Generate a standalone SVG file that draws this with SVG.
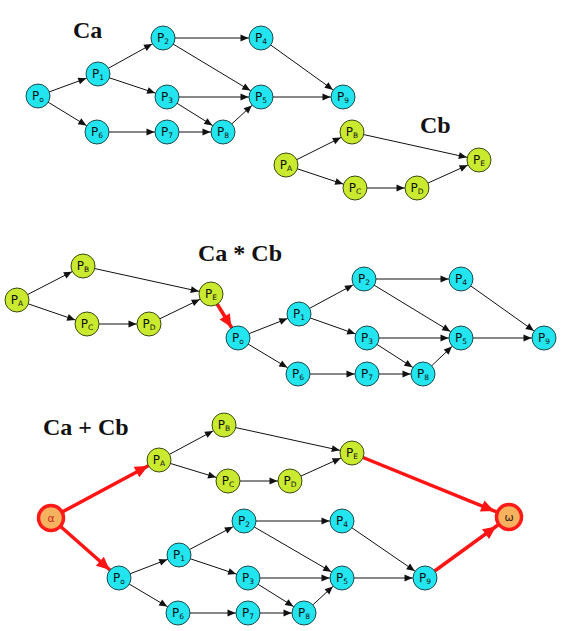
<svg xmlns="http://www.w3.org/2000/svg" width="565" height="631" viewBox="0 0 565 631">
  <style>
    .title { font-family: "Liberation Serif", "Times New Roman", serif; font-weight: bold; font-size: 24px; fill: #111; }
    .cy circle { fill: #22E5F0; stroke: #1d4a4a; stroke-width: 1; }
    .gr circle { fill: #C9EA2E; stroke: #3a4a10; stroke-width: 1; }
    .nd text { font-family: "DejaVu Sans", "Liberation Sans", sans-serif; font-size: 12px; fill: #111; text-anchor: middle; }
    .nd tspan { font-size: 7.5px; }
    .term circle { fill: #F6B25E; stroke: #FF1A1A; stroke-width: 3.5; }
    .term text { font-family: "DejaVu Sans", "Liberation Sans", sans-serif; font-size: 11px; text-anchor: middle; }
    .edges line { stroke: #111; stroke-width: 1; marker-end: url(#ah); }
    .edges line.red { stroke: #FF1414; stroke-width: 3.5; marker-end: url(#ahr); }
    .edges line.red.w { marker-end: url(#ahw); }
  </style>
  <defs>
    <!-- arrowheads: tip sits one node radius before the line end -->
    <marker id="ah" markerUnits="userSpaceOnUse" markerWidth="30" markerHeight="12" viewBox="-10 -6 30 12" refX="12.5" refY="0" orient="auto" overflow="visible">
      <path d="M-8,-3.5 L0,0 L-8,3.5 Z" fill="#111"/>
    </marker>
    <marker id="ahr" markerUnits="userSpaceOnUse" markerWidth="40" markerHeight="16" viewBox="-14 -8 40 16" refX="12.5" refY="0" orient="auto" overflow="visible">
      <path d="M-13,-6 L0,0 L-13,6 Z" fill="#FF1414"/>
    </marker>
    <marker id="ahw" markerUnits="userSpaceOnUse" markerWidth="40" markerHeight="16" viewBox="-14 -8 40 16" refX="16" refY="0" orient="auto" overflow="visible">
      <path d="M-13,-6 L0,0 L-13,6 Z" fill="#FF1414"/>
    </marker>
  </defs>

  <rect width="565" height="631" fill="#fff"/>

  <!-- titles -->
  <text class="title" x="73" y="38">Ca</text>
  <text class="title" x="420" y="133">Cb</text>
  <text class="title" x="198" y="261">Ca * Cb</text>
  <text class="title" x="43" y="435">Ca + Cb</text>

  <!-- connectors -->
  <g class="edges" id="connectors">
    <!-- Ca -->
    <line x1="38" y1="96" x2="98" y2="74"/>
    <line x1="38" y1="96" x2="97" y2="132"/>
    <line x1="98" y1="74" x2="163" y2="38"/>
    <line x1="98" y1="74" x2="167" y2="97"/>
    <line x1="163" y1="38" x2="261" y2="38"/>
    <line x1="163" y1="38" x2="261" y2="97"/>
    <line x1="167" y1="97" x2="261" y2="97"/>
    <line x1="167" y1="97" x2="223" y2="132"/>
    <line x1="261" y1="38" x2="343" y2="97"/>
    <line x1="261" y1="97" x2="343" y2="97"/>
    <line x1="97" y1="132" x2="167" y2="132"/>
    <line x1="167" y1="132" x2="223" y2="132"/>
    <line x1="223" y1="132" x2="261" y2="97"/>
    <!-- Cb -->
    <line x1="286" y1="165" x2="352" y2="132"/>
    <line x1="286" y1="165" x2="355" y2="188"/>
    <line x1="352" y1="132" x2="479" y2="160"/>
    <line x1="355" y1="188" x2="417" y2="188"/>
    <line x1="417" y1="188" x2="479" y2="160"/>

    <!-- Ca * Cb -->
    <line x1="17" y1="300" x2="83" y2="266"/>
    <line x1="17" y1="300" x2="87" y2="324"/>
    <line x1="83" y1="266" x2="211" y2="294"/>
    <line x1="87" y1="324" x2="149" y2="324"/>
    <line x1="149" y1="324" x2="211" y2="294"/>
    <line class="red" x1="211" y1="294" x2="238" y2="338"/>
    <line x1="238" y1="338" x2="299" y2="314"/>
    <line x1="238" y1="338" x2="298" y2="374"/>
    <line x1="299" y1="314" x2="364" y2="279"/>
    <line x1="299" y1="314" x2="367" y2="338"/>
    <line x1="364" y1="279" x2="461" y2="279"/>
    <line x1="364" y1="279" x2="461" y2="338"/>
    <line x1="367" y1="338" x2="461" y2="338"/>
    <line x1="367" y1="338" x2="423" y2="374"/>
    <line x1="461" y1="279" x2="544" y2="338"/>
    <line x1="461" y1="338" x2="544" y2="338"/>
    <line x1="298" y1="374" x2="367" y2="374"/>
    <line x1="367" y1="374" x2="423" y2="374"/>
    <line x1="423" y1="374" x2="461" y2="338"/>

    <!-- Ca + Cb -->
    <line class="red" x1="51" y1="518" x2="159" y2="460"/>
    <line class="red" x1="51" y1="518" x2="119" y2="578"/>
    <line class="red w" x1="352" y1="453" x2="509" y2="517"/>
    <line class="red w" x1="425" y1="578" x2="509" y2="517"/>
    <line x1="159" y1="460" x2="224" y2="425"/>
    <line x1="159" y1="460" x2="228" y2="481"/>
    <line x1="224" y1="425" x2="352" y2="453"/>
    <line x1="228" y1="481" x2="290" y2="481"/>
    <line x1="290" y1="481" x2="352" y2="453"/>
    <line x1="119" y1="578" x2="179" y2="555"/>
    <line x1="119" y1="578" x2="178" y2="613"/>
    <line x1="179" y1="555" x2="244" y2="521"/>
    <line x1="179" y1="555" x2="248" y2="578"/>
    <line x1="244" y1="521" x2="342" y2="521"/>
    <line x1="244" y1="521" x2="342" y2="578"/>
    <line x1="248" y1="578" x2="342" y2="578"/>
    <line x1="248" y1="578" x2="304" y2="613"/>
    <line x1="342" y1="521" x2="425" y2="578"/>
    <line x1="342" y1="578" x2="425" y2="578"/>
    <line x1="178" y1="613" x2="248" y2="613"/>
    <line x1="248" y1="613" x2="304" y2="613"/>
    <line x1="304" y1="613" x2="342" y2="578"/>
  </g>

  <!-- Ca -->
  <g id="ca-p0" class="nd cy" transform="translate(38,96)"><circle r="12"/><text y="3.5">P<tspan dy="2.5">o</tspan></text></g>
  <g id="ca-p1" class="nd cy" transform="translate(98,74)"><circle r="12"/><text y="3.5">P<tspan dy="2.5">1</tspan></text></g>
  <g id="ca-p2" class="nd cy" transform="translate(163,38)"><circle r="12"/><text y="3.5">P<tspan dy="2.5">2</tspan></text></g>
  <g id="ca-p3" class="nd cy" transform="translate(167,97)"><circle r="12"/><text y="3.5">P<tspan dy="2.5">3</tspan></text></g>
  <g id="ca-p4" class="nd cy" transform="translate(261,38)"><circle r="12"/><text y="3.5">P<tspan dy="2.5">4</tspan></text></g>
  <g id="ca-p5" class="nd cy" transform="translate(261,97)"><circle r="12"/><text y="3.5">P<tspan dy="2.5">5</tspan></text></g>
  <g id="ca-p6" class="nd cy" transform="translate(97,132)"><circle r="12"/><text y="3.5">P<tspan dy="2.5">6</tspan></text></g>
  <g id="ca-p7" class="nd cy" transform="translate(167,132)"><circle r="12"/><text y="3.5">P<tspan dy="2.5">7</tspan></text></g>
  <g id="ca-p8" class="nd cy" transform="translate(223,132)"><circle r="12"/><text y="3.5">P<tspan dy="2.5">8</tspan></text></g>
  <g id="ca-p9" class="nd cy" transform="translate(343,97)"><circle r="12"/><text y="3.5">P<tspan dy="2.5">9</tspan></text></g>

  <!-- Cb -->
  <g id="cb-pa" class="nd gr" transform="translate(286,165)"><circle r="12"/><text y="3.5">P<tspan dy="2.5">A</tspan></text></g>
  <g id="cb-pb" class="nd gr" transform="translate(352,132)"><circle r="12"/><text y="3.5">P<tspan dy="2.5">B</tspan></text></g>
  <g id="cb-pc" class="nd gr" transform="translate(355,188)"><circle r="12"/><text y="3.5">P<tspan dy="2.5">C</tspan></text></g>
  <g id="cb-pd" class="nd gr" transform="translate(417,188)"><circle r="12"/><text y="3.5">P<tspan dy="2.5">D</tspan></text></g>
  <g id="cb-pe" class="nd gr" transform="translate(479,160)"><circle r="12"/><text y="3.5">P<tspan dy="2.5">E</tspan></text></g>

  <!-- Ca * Cb -->
  <g id="seq-pa" class="nd gr" transform="translate(17,300)"><circle r="12"/><text y="3.5">P<tspan dy="2.5">A</tspan></text></g>
  <g id="seq-pb" class="nd gr" transform="translate(83,266)"><circle r="12"/><text y="3.5">P<tspan dy="2.5">B</tspan></text></g>
  <g id="seq-pc" class="nd gr" transform="translate(87,324)"><circle r="12"/><text y="3.5">P<tspan dy="2.5">C</tspan></text></g>
  <g id="seq-pd" class="nd gr" transform="translate(149,324)"><circle r="12"/><text y="3.5">P<tspan dy="2.5">D</tspan></text></g>
  <g id="seq-pe" class="nd gr" transform="translate(211,294)"><circle r="12"/><text y="3.5">P<tspan dy="2.5">E</tspan></text></g>
  <g id="seq-p0" class="nd cy" transform="translate(238,338)"><circle r="12"/><text y="3.5">P<tspan dy="2.5">o</tspan></text></g>
  <g id="seq-p1" class="nd cy" transform="translate(299,314)"><circle r="12"/><text y="3.5">P<tspan dy="2.5">1</tspan></text></g>
  <g id="seq-p2" class="nd cy" transform="translate(364,279)"><circle r="12"/><text y="3.5">P<tspan dy="2.5">2</tspan></text></g>
  <g id="seq-p3" class="nd cy" transform="translate(367,338)"><circle r="12"/><text y="3.5">P<tspan dy="2.5">3</tspan></text></g>
  <g id="seq-p4" class="nd cy" transform="translate(461,279)"><circle r="12"/><text y="3.5">P<tspan dy="2.5">4</tspan></text></g>
  <g id="seq-p5" class="nd cy" transform="translate(461,338)"><circle r="12"/><text y="3.5">P<tspan dy="2.5">5</tspan></text></g>
  <g id="seq-p6" class="nd cy" transform="translate(298,374)"><circle r="12"/><text y="3.5">P<tspan dy="2.5">6</tspan></text></g>
  <g id="seq-p7" class="nd cy" transform="translate(367,374)"><circle r="12"/><text y="3.5">P<tspan dy="2.5">7</tspan></text></g>
  <g id="seq-p8" class="nd cy" transform="translate(423,374)"><circle r="12"/><text y="3.5">P<tspan dy="2.5">8</tspan></text></g>
  <g id="seq-p9" class="nd cy" transform="translate(544,338)"><circle r="12"/><text y="3.5">P<tspan dy="2.5">9</tspan></text></g>

  <!-- Ca + Cb -->
  <g id="alt-alpha" class="term" transform="translate(51,518)"><circle r="12.5"/><text y="4" fill="#D02A1E">α</text></g>
  <g id="alt-omega" class="term" transform="translate(509,517)"><circle r="12.5"/><text y="4" fill="#3a2410">ω</text></g>
  <g id="alt-pa" class="nd gr" transform="translate(159,460)"><circle r="12"/><text y="3.5">P<tspan dy="2.5">A</tspan></text></g>
  <g id="alt-pb" class="nd gr" transform="translate(224,425)"><circle r="12"/><text y="3.5">P<tspan dy="2.5">B</tspan></text></g>
  <g id="alt-pc" class="nd gr" transform="translate(228,481)"><circle r="12"/><text y="3.5">P<tspan dy="2.5">C</tspan></text></g>
  <g id="alt-pd" class="nd gr" transform="translate(290,481)"><circle r="12"/><text y="3.5">P<tspan dy="2.5">D</tspan></text></g>
  <g id="alt-pe" class="nd gr" transform="translate(352,453)"><circle r="12"/><text y="3.5">P<tspan dy="2.5">E</tspan></text></g>
  <g id="alt-p0" class="nd cy" transform="translate(119,578)"><circle r="12"/><text y="3.5">P<tspan dy="2.5">o</tspan></text></g>
  <g id="alt-p1" class="nd cy" transform="translate(179,555)"><circle r="12"/><text y="3.5">P<tspan dy="2.5">1</tspan></text></g>
  <g id="alt-p2" class="nd cy" transform="translate(244,521)"><circle r="12"/><text y="3.5">P<tspan dy="2.5">2</tspan></text></g>
  <g id="alt-p3" class="nd cy" transform="translate(248,578)"><circle r="12"/><text y="3.5">P<tspan dy="2.5">3</tspan></text></g>
  <g id="alt-p4" class="nd cy" transform="translate(342,521)"><circle r="12"/><text y="3.5">P<tspan dy="2.5">4</tspan></text></g>
  <g id="alt-p5" class="nd cy" transform="translate(342,578)"><circle r="12"/><text y="3.5">P<tspan dy="2.5">5</tspan></text></g>
  <g id="alt-p6" class="nd cy" transform="translate(178,613)"><circle r="12"/><text y="3.5">P<tspan dy="2.5">6</tspan></text></g>
  <g id="alt-p7" class="nd cy" transform="translate(248,613)"><circle r="12"/><text y="3.5">P<tspan dy="2.5">7</tspan></text></g>
  <g id="alt-p8" class="nd cy" transform="translate(304,613)"><circle r="12"/><text y="3.5">P<tspan dy="2.5">8</tspan></text></g>
  <g id="alt-p9" class="nd cy" transform="translate(425,578)"><circle r="12"/><text y="3.5">P<tspan dy="2.5">9</tspan></text></g>
</svg>
